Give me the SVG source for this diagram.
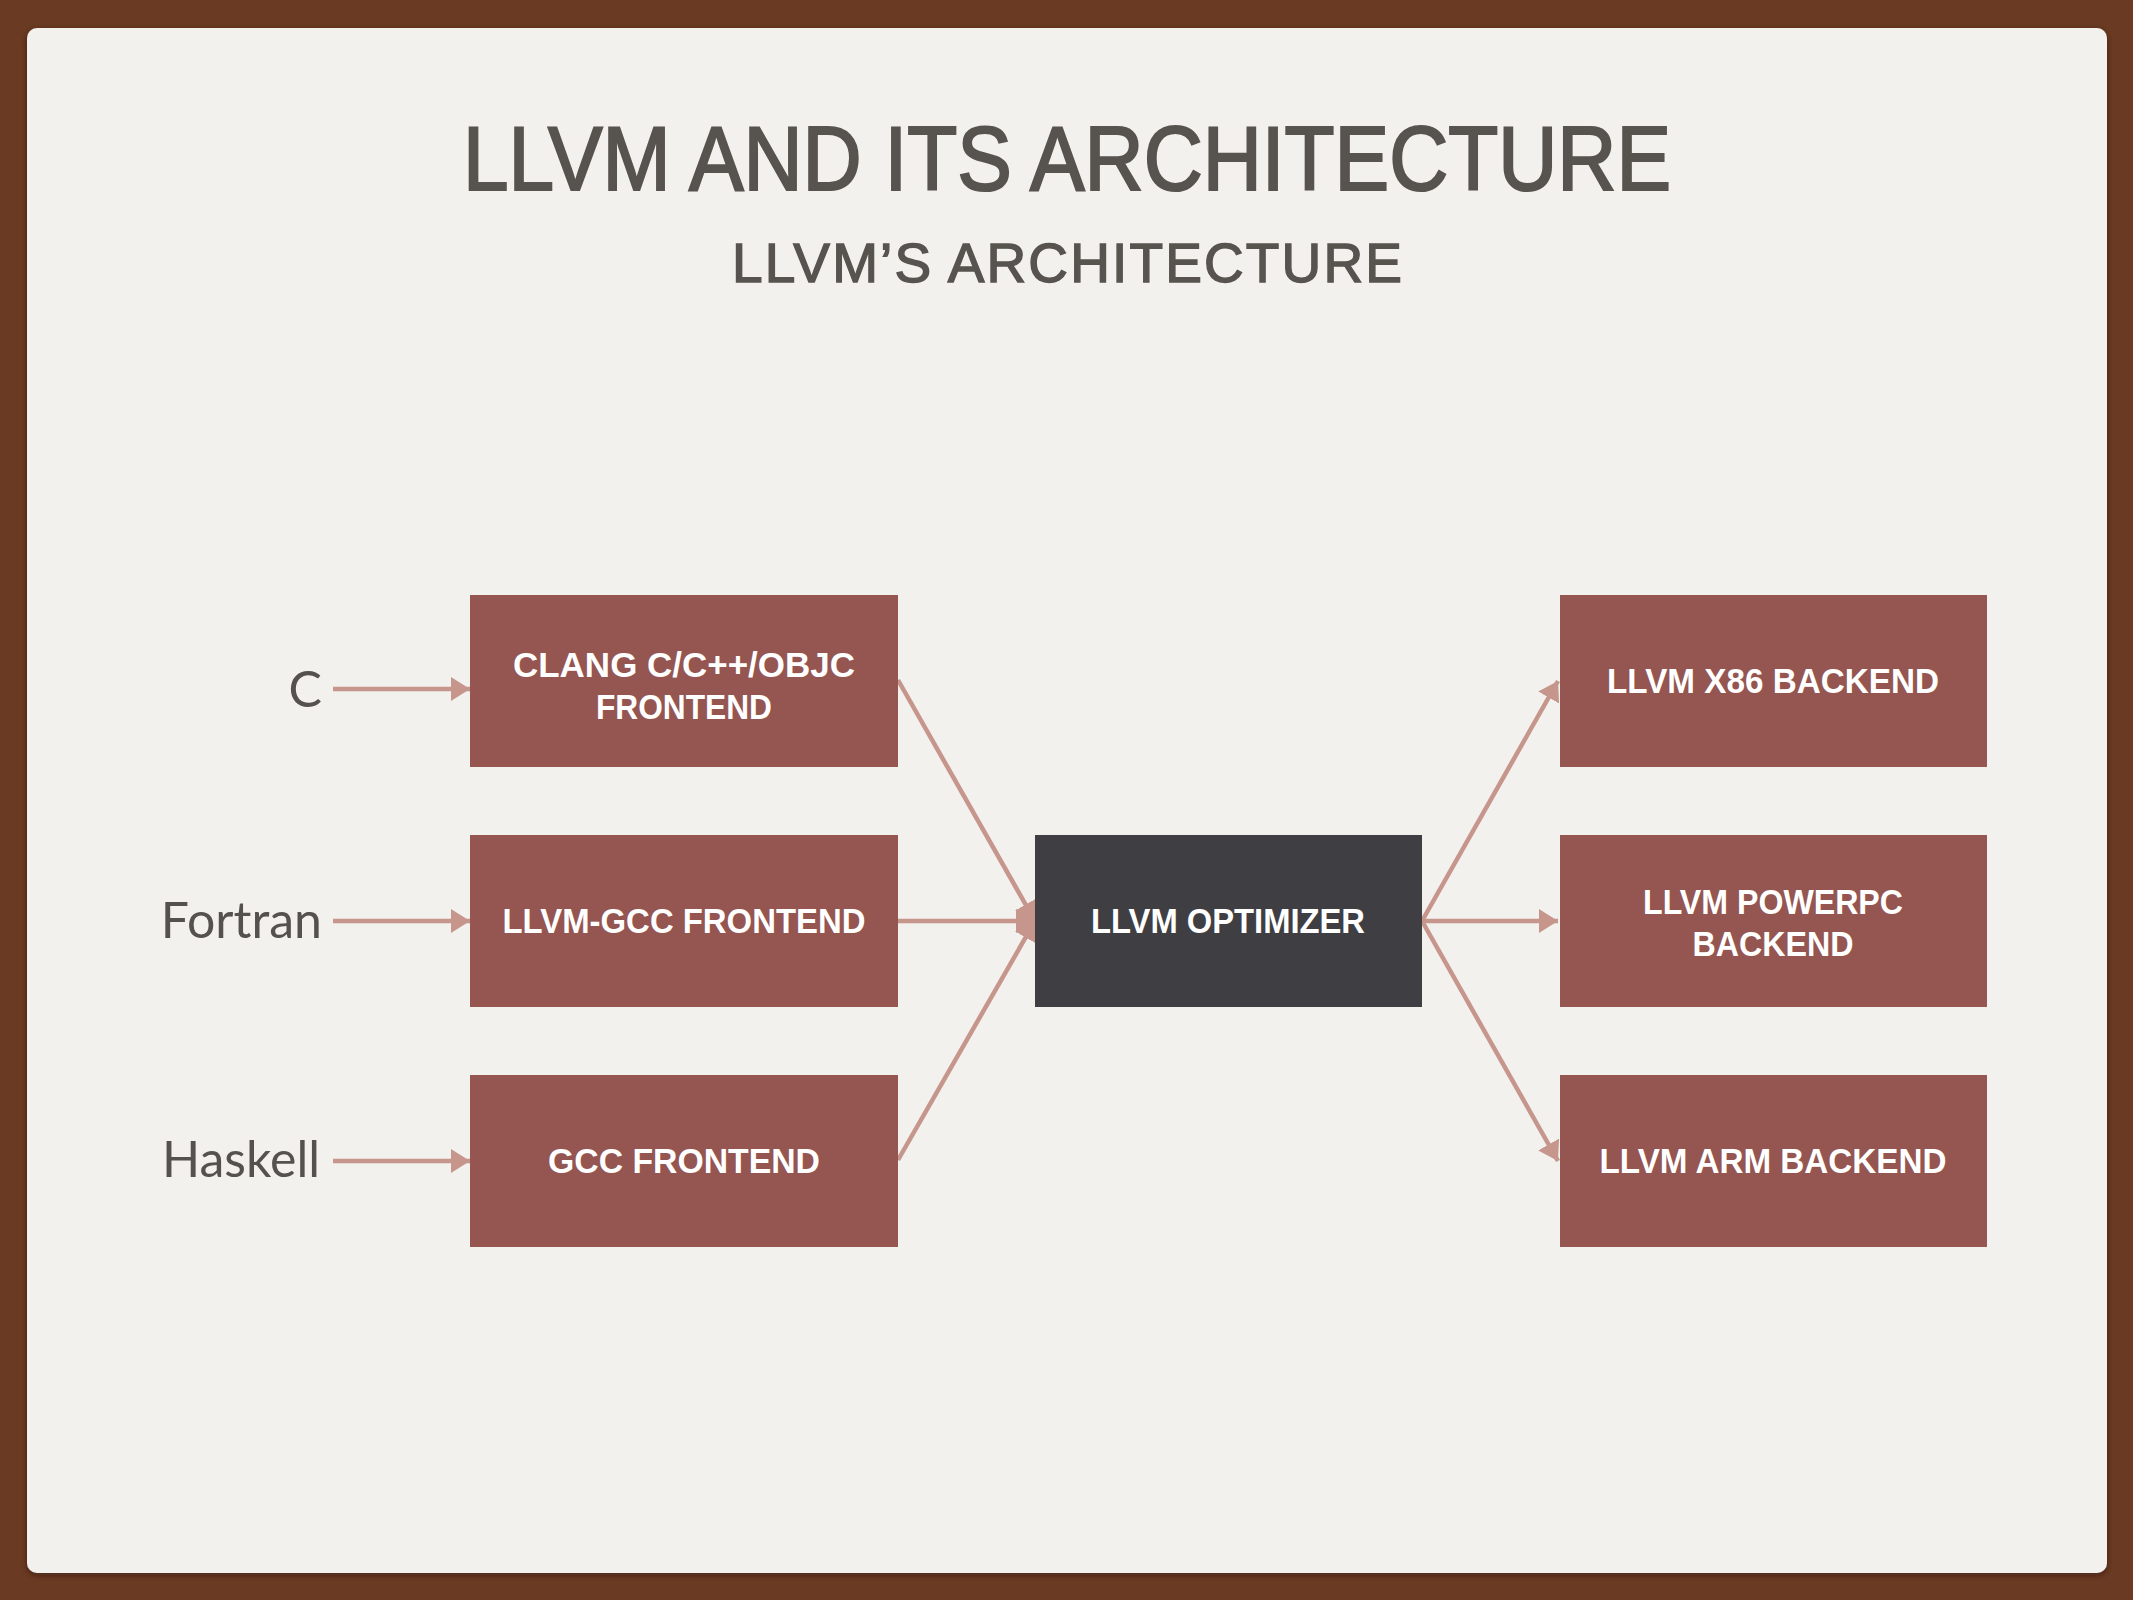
<svg xmlns="http://www.w3.org/2000/svg" width="2133" height="1600" viewBox="0 0 2133 1600">
  <defs>
    <marker id="ah" markerUnits="userSpaceOnUse" markerWidth="22" markerHeight="26" refX="19" refY="12" orient="auto">
      <path d="M0,0 L19,12 L0,24 Z" fill="#c6968c"/>
    </marker>
    <filter id="sh" x="-5%" y="-5%" width="110%" height="110%">
      <feDropShadow dx="0" dy="2" stdDeviation="3" flood-color="#2a1408" flood-opacity="0.6"/>
    </filter>
  </defs>
  <style>
    .title { font-family: "Liberation Sans", Arial, sans-serif; fill: #57534e; stroke: #57534e; }
    .lbl { font-family: "Lato", "Liberation Sans", sans-serif; font-size: 50px; fill: #55524d; text-anchor: end; }
    .box { fill: #955550; }
    .dark { fill: #3f3e43; }
    .bt { font-family: "Liberation Sans", Arial, sans-serif; font-weight: bold; font-size: 35px; fill: #ffffff; text-anchor: middle; }
    .conn { stroke: #c6968c; stroke-width: 4.5; fill: none; marker-end: url(#ah); }
  </style>
  <rect x="0" y="0" width="2133" height="1600" fill="#6a3b22"/>
  <rect x="27" y="28" width="2080" height="1545" rx="10" ry="10" fill="#f2f1ee" filter="url(#sh)"/>

  <text class="title" x="1067" y="190" font-size="90" stroke-width="2.2" text-anchor="middle" textLength="1208" lengthAdjust="spacingAndGlyphs">LLVM AND ITS ARCHITECTURE</text>
  <text class="title" x="1067" y="282" font-size="55" stroke-width="1.4" text-anchor="middle" textLength="670" lengthAdjust="spacing">LLVM’S ARCHITECTURE</text>

  <g id="label-c"><text class="lbl" x="322" y="707">C</text></g>
  <g id="label-fortran"><text class="lbl" x="322" y="938">Fortran</text></g>
  <g id="label-haskell"><text class="lbl" x="320" y="1177">Haskell</text></g>

  <g id="connectors">
    <line class="conn" x1="333" y1="689" x2="470" y2="689"/>
    <line class="conn" x1="333" y1="921" x2="470" y2="921"/>
    <line class="conn" x1="333" y1="1161" x2="470" y2="1161"/>
    <line class="conn" x1="898" y1="680" x2="1035" y2="921"/>
    <line class="conn" x1="898" y1="921" x2="1035" y2="921"/>
    <line class="conn" x1="898" y1="1160" x2="1035" y2="921"/>
    <line class="conn" x1="1422" y1="921" x2="1558" y2="681"/>
    <line class="conn" x1="1422" y1="921" x2="1558" y2="921"/>
    <line class="conn" x1="1422" y1="921" x2="1558" y2="1161"/>
  </g>

  <g id="clang">
    <rect class="box" x="470" y="595" width="428" height="172"/>
    <text class="bt" x="684" y="677" textLength="342" lengthAdjust="spacingAndGlyphs">CLANG C/C++/OBJC</text>
    <text class="bt" x="684" y="719" textLength="176" lengthAdjust="spacingAndGlyphs">FRONTEND</text>
  </g>
  <g id="llvm-gcc">
    <rect class="box" x="470" y="835" width="428" height="172"/>
    <text class="bt" x="684" y="933" textLength="363" lengthAdjust="spacingAndGlyphs">LLVM-GCC FRONTEND</text>
  </g>
  <g id="gcc">
    <rect class="box" x="470" y="1075" width="428" height="172"/>
    <text class="bt" x="684" y="1173" textLength="272" lengthAdjust="spacingAndGlyphs">GCC FRONTEND</text>
  </g>
  <g id="optimizer">
    <rect class="dark" x="1035" y="835" width="387" height="172"/>
    <text class="bt" x="1228" y="933" textLength="274" lengthAdjust="spacingAndGlyphs">LLVM OPTIMIZER</text>
  </g>
  <g id="x86">
    <rect class="box" x="1560" y="595" width="427" height="172"/>
    <text class="bt" x="1773" y="693" textLength="332" lengthAdjust="spacingAndGlyphs">LLVM X86 BACKEND</text>
  </g>
  <g id="powerpc">
    <rect class="box" x="1560" y="835" width="427" height="172"/>
    <text class="bt" x="1773" y="914" textLength="260" lengthAdjust="spacingAndGlyphs">LLVM POWERPC</text>
    <text class="bt" x="1773" y="956" textLength="161" lengthAdjust="spacingAndGlyphs">BACKEND</text>
  </g>
  <g id="arm">
    <rect class="box" x="1560" y="1075" width="427" height="172"/>
    <text class="bt" x="1773" y="1173" textLength="347" lengthAdjust="spacingAndGlyphs">LLVM ARM BACKEND</text>
  </g>
</svg>
